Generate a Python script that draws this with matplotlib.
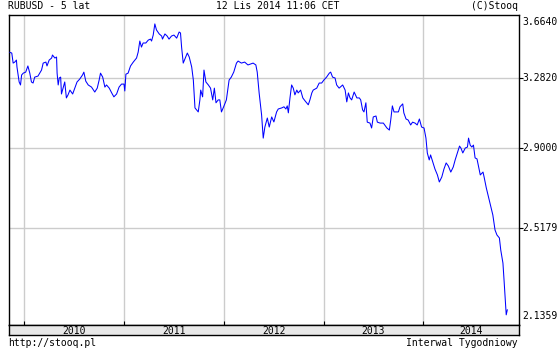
import numpy as np
import pandas as pd
import matplotlib
matplotlib.use("Agg")
from matplotlib import pyplot as plt
import matplotlib.dates as mdates
from matplotlib.ticker import NullLocator

# weekly RUBUSD (x100) quotes
dates = [
    "2009-11-09", "2009-11-16", "2009-11-21", "2009-11-27", "2009-12-03", "2009-12-05",
    "2009-12-13", "2009-12-18", "2009-12-22", "2009-12-28", "2010-01-06", "2010-01-14",
    "2010-01-21", "2010-01-27", "2010-02-02", "2010-02-08", "2010-02-20", "2010-03-05",
    "2010-03-11", "2010-03-21", "2010-03-25", "2010-04-02", "2010-04-11", "2010-04-14",
    "2010-04-23", "2010-04-29", "2010-05-01", "2010-05-05", "2010-05-09", "2010-05-14",
    "2010-05-17", "2010-05-23", "2010-05-29", "2010-06-04", "2010-06-10", "2010-06-17",
    "2010-06-27", "2010-07-05", "2010-07-13", "2010-07-23", "2010-08-02", "2010-08-07",
    "2010-08-14", "2010-08-23", "2010-09-04", "2010-09-16", "2010-09-25", "2010-10-02",
    "2010-10-07", "2010-10-15", "2010-10-23", "2010-10-29", "2010-11-08", "2010-11-17",
    "2010-11-25", "2010-12-05", "2010-12-14", "2010-12-23", "2011-01-01", "2011-01-04",
    "2011-01-08", "2011-01-16", "2011-01-25", "2011-02-04", "2011-02-16", "2011-02-22",
    "2011-02-28", "2011-03-06", "2011-03-12", "2011-03-22", "2011-03-31", "2011-04-08",
    "2011-04-12", "2011-04-18", "2011-04-24", "2011-04-30", "2011-05-10", "2011-05-19",
    "2011-05-22", "2011-05-31", "2011-06-08", "2011-06-15", "2011-06-24", "2011-07-03",
    "2011-07-13", "2011-07-22", "2011-07-27", "2011-07-31", "2011-08-06", "2011-08-12",
    "2011-08-21", "2011-08-28", "2011-09-06", "2011-09-12", "2011-09-18", "2011-09-30",
    "2011-10-06", "2011-10-09", "2011-10-16", "2011-10-21", "2011-10-28", "2011-11-06",
    "2011-11-14", "2011-11-22", "2011-11-28", "2011-12-04", "2011-12-12", "2011-12-18",
    "2011-12-24", "2012-01-01", "2012-01-11", "2012-01-21", "2012-01-29", "2012-02-07",
    "2012-02-17", "2012-02-23", "2012-03-06", "2012-03-18", "2012-03-30", "2012-04-18",
    "2012-04-28", "2012-05-03", "2012-05-10", "2012-05-19", "2012-05-25", "2012-05-31",
    "2012-06-09", "2012-06-16", "2012-06-25", "2012-07-03", "2012-07-13", "2012-07-19",
    "2012-08-01", "2012-08-09", "2012-08-16", "2012-08-21", "2012-08-25", "2012-08-31",
    "2012-09-06", "2012-09-12", "2012-09-18", "2012-09-25", "2012-09-30", "2012-10-09",
    "2012-10-17", "2012-10-25", "2012-11-06", "2012-11-12", "2012-11-19", "2012-11-24",
    "2012-12-07", "2012-12-16", "2012-12-25", "2013-01-02", "2013-01-12", "2013-01-22",
    "2013-01-27", "2013-02-03", "2013-02-12", "2013-02-18", "2013-02-27", "2013-03-12",
    "2013-03-21", "2013-03-27", "2013-04-02", "2013-04-08", "2013-04-14", "2013-04-23",
    "2013-05-03", "2013-05-12", "2013-05-17", "2013-05-24", "2013-05-29", "2013-06-05",
    "2013-06-10", "2013-06-20", "2013-06-26", "2013-07-02", "2013-07-12", "2013-07-17",
    "2013-07-27", "2013-08-08", "2013-08-21", "2013-08-30", "2013-09-04", "2013-09-10",
    "2013-09-16", "2013-09-23", "2013-10-02", "2013-10-08", "2013-10-18", "2013-10-22",
    "2013-10-30", "2013-11-07", "2013-11-16", "2013-11-23", "2013-12-02", "2013-12-10",
    "2013-12-18", "2013-12-26", "2014-01-04", "2014-01-11", "2014-01-16", "2014-01-23",
    "2014-01-28", "2014-02-05", "2014-02-13", "2014-02-22", "2014-03-01", "2014-03-10",
    "2014-03-18", "2014-03-26", "2014-04-03", "2014-04-12", "2014-04-21", "2014-04-28",
    "2014-05-06", "2014-05-14", "2014-05-19", "2014-05-26", "2014-06-04", "2014-06-12",
    "2014-06-16", "2014-06-22", "2014-06-28", "2014-07-04", "2014-07-10", "2014-07-17",
    "2014-07-23", "2014-07-29", "2014-08-08", "2014-08-12", "2014-08-20", "2014-08-28",
    "2014-09-06", "2014-09-13", "2014-09-21", "2014-09-28", "2014-10-07", "2014-10-12",
    "2014-10-20", "2014-10-24", "2014-10-29", "2014-11-01", "2014-11-05",
]
rate = [
    3.431, 3.427, 3.367, 3.373, 3.385, 3.344,
    3.257, 3.240, 3.297, 3.308, 3.314, 3.350,
    3.308, 3.257, 3.251, 3.285, 3.291, 3.326,
    3.367, 3.373, 3.350, 3.385, 3.397, 3.415,
    3.397, 3.403, 3.308, 3.240, 3.280, 3.285,
    3.189, 3.222, 3.257, 3.167, 3.184, 3.211,
    3.189, 3.222, 3.257, 3.274, 3.297, 3.314,
    3.262, 3.240, 3.228, 3.200, 3.222, 3.268,
    3.308, 3.285, 3.228, 3.240, 3.222, 3.195,
    3.173, 3.189, 3.228, 3.245, 3.245, 3.206,
    3.302, 3.308, 3.350, 3.373, 3.397, 3.433,
    3.500, 3.463, 3.488, 3.488, 3.506, 3.512,
    3.500, 3.537, 3.607, 3.569, 3.544, 3.531,
    3.512, 3.544, 3.531, 3.512, 3.531, 3.537,
    3.518, 3.556, 3.550, 3.463, 3.367, 3.391,
    3.427, 3.403, 3.344, 3.268, 3.112, 3.090,
    3.156, 3.211, 3.173, 3.326, 3.257, 3.240,
    3.222, 3.156, 3.222, 3.140, 3.156, 3.156,
    3.090, 3.118, 3.156, 3.268, 3.285, 3.314,
    3.367, 3.379, 3.367, 3.373, 3.356, 3.367,
    3.356, 3.314, 3.195, 3.074, 2.951, 3.009,
    3.057, 3.009, 3.063, 3.036, 3.090, 3.106,
    3.112, 3.118, 3.106, 3.123, 3.085, 3.167,
    3.240, 3.222, 3.184, 3.211, 3.195, 3.211,
    3.167, 3.151, 3.129, 3.156, 3.195, 3.211,
    3.222, 3.251, 3.251, 3.268, 3.285, 3.308,
    3.314, 3.285, 3.280, 3.240, 3.222, 3.240,
    3.211, 3.145, 3.195, 3.167, 3.156, 3.200,
    3.167, 3.167, 3.156, 3.101, 3.090, 3.140,
    3.035, 3.030, 3.004, 3.063, 3.068, 3.035,
    3.030, 3.030, 3.004, 2.993, 3.046, 3.123,
    3.090, 3.090, 3.090, 3.118, 3.134, 3.085,
    3.052, 3.046, 3.020, 3.035, 3.030, 3.020,
    3.052, 3.009, 3.004, 2.951, 2.875, 2.840,
    2.865, 2.830, 2.795, 2.766, 2.732, 2.756,
    2.795, 2.825, 2.810, 2.780, 2.805, 2.840,
    2.875, 2.910, 2.900, 2.875, 2.900, 2.905,
    2.951, 2.915, 2.905, 2.915, 2.850, 2.845,
    2.805, 2.766, 2.780, 2.756, 2.704, 2.661,
    2.615, 2.578, 2.511, 2.489, 2.476, 2.424,
    2.369, 2.300, 2.209, 2.163, 2.182,
]

y_labels = [3.6640, 3.2820, 2.9000, 2.5179, 2.1359]
years = [2010, 2011, 2012, 2013, 2014]

W, H = 560, 350
mono = "DejaVu Sans Mono"
fs = 7

fig = plt.figure(figsize=(W / 100, H / 100), dpi=100)
fig.patch.set_facecolor("white")

ax = fig.add_axes([8.5 / W, 1 - 325 / H, 510 / W, 310 / H])
ax.set_yscale("log")
ax.plot(pd.to_datetime(dates), rate, color="#0000ff", linewidth=0.75, zorder=3)

x0, x1 = pd.Timestamp("2009-11-04"), pd.Timestamp("2014-12-16")
ax.set_xlim(x0, x1)
ax.set_ylim(2.1247, 3.664)

year_starts = [pd.Timestamp(f"{y}-01-01") for y in years]
for ys in year_starts:
    ax.axvline(ys, color="#cccccc", linewidth=1, zorder=1)
for v in y_labels[1:-1]:
    ax.axhline(v, color="#cccccc", linewidth=1, zorder=1)

ax.set_xticks(year_starts)
ax.tick_params(axis="x", direction="in", length=3, width=0.8, labelbottom=False, color="black")
ax.set_yticks(y_labels[1:-1])
ax.yaxis.set_minor_locator(NullLocator())
ax.yaxis.tick_right()
ax.tick_params(axis="y", direction="out", length=3, width=0.8, labelright=False, labelleft=False)
for s in ax.spines.values():
    s.set_linewidth(1)
    s.set_color("black")

offsets = {3.6640: -7, 2.1359: 6}
for v in y_labels:
    ax.annotate(f"{v:.4f}", xy=(1, v), xycoords=("axes fraction", "data"),
                xytext=(4, offsets.get(v, 0)), textcoords="offset pixels",
                ha="left", va="center", fontsize=fs, family=mono)

# year band under the plot
bx = fig.add_axes([8.5 / W, 1 - 335 / H, 510 / W, 10 / H])
bx.set_facecolor("#e8e8e8")
bx.set_xlim(x0, x1)
bx.set_ylim(0, 1)
bx.set_xticks([])
bx.set_yticks([])
for s in bx.spines.values():
    s.set_linewidth(1)
    s.set_color("black")
lo, hi = mdates.date2num(x0), mdates.date2num(x1)
for y in years:
    a = max(mdates.date2num(pd.Timestamp(f"{y}-01-01")), lo)
    b = min(mdates.date2num(pd.Timestamp(f"{y + 1}-01-01")), hi)
    bx.text((a + b) / 2, 0.45, str(y), ha="center", va="center", fontsize=fs, family=mono)

fig.text(8 / W, 1 - 6 / H, "RUBUSD - 5 lat", ha="left", va="center", fontsize=fs, family=mono)
fig.text(278 / W, 1 - 6 / H, "12 Lis 2014 11:06 CET", ha="center", va="center", fontsize=fs, family=mono)
fig.text(518 / W, 1 - 6 / H, "(C)Stooq", ha="right", va="center", fontsize=fs, family=mono)
fig.text(8 / W, 1 - 343 / H, "http://stooq.pl", ha="left", va="center", fontsize=fs, family=mono)
fig.text(518 / W, 1 - 343 / H, "Interwal Tygodniowy", ha="right", va="center", fontsize=fs, family=mono)

fig.savefig("out.png", dpi=100)
